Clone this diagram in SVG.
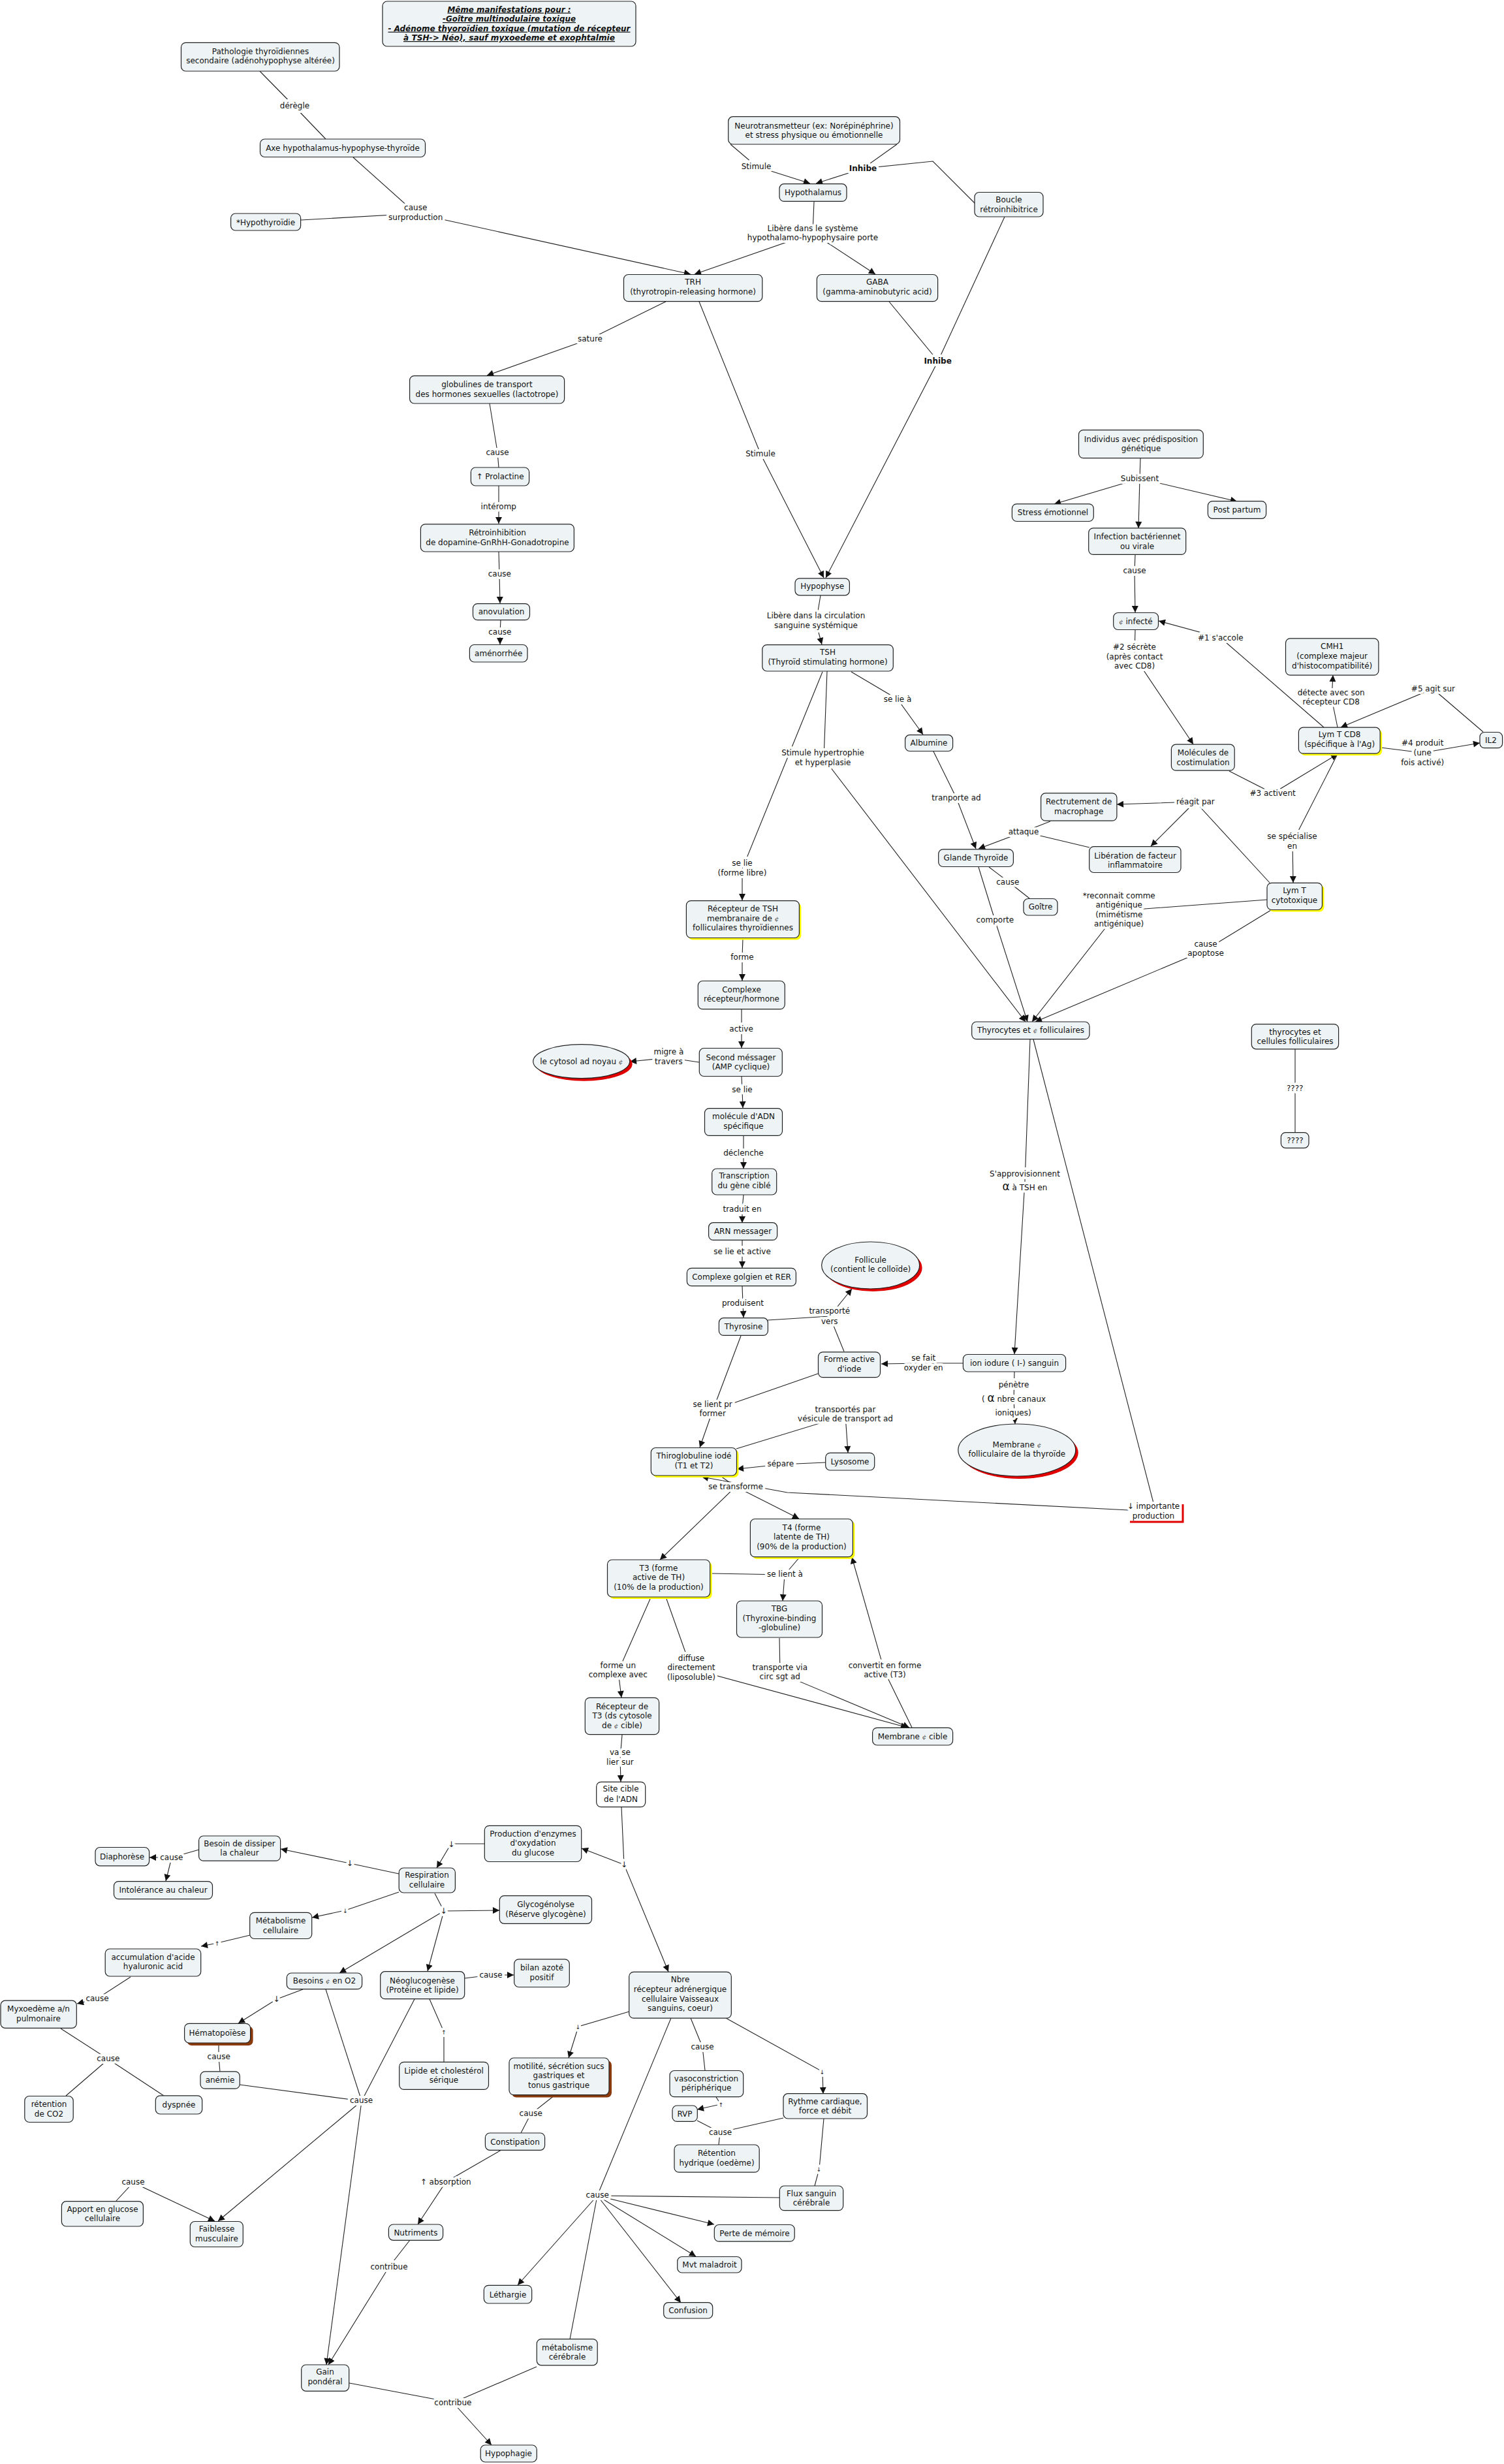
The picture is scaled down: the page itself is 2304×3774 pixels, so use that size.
<svg xmlns="http://www.w3.org/2000/svg" width="2304" height="3774" viewBox="0 0 2304 3774">
<defs>
<style>
.n{fill:#EEF4F6;stroke:#222;stroke-width:1.2}
.w{fill:#FFFFFF;stroke:#222;stroke-width:1.2}
.ys{fill:#FFFF00}
.rs{fill:#E00000}
.bs{fill:#8B3A0E}
.t{font-family:"DejaVu Sans",Verdana,sans-serif;font-size:12px;fill:#111;text-anchor:middle}
.l{font-family:"DejaVu Sans",Verdana,sans-serif;font-size:12px;fill:#111;text-anchor:middle;paint-order:stroke;stroke:#fff;stroke-width:8px;stroke-linejoin:round}
.sm{font-size:9px}
.b{font-weight:bold}
.ti{font-family:"DejaVu Sans",Verdana,sans-serif;font-size:12px;fill:#111;text-anchor:middle;font-weight:bold;font-style:italic;text-decoration:underline}
.cs{font-family:"DejaVu Serif",serif;font-style:italic;font-size:10px;fill:#444}
.al{font-size:17px}
.c{fill:none;stroke:#222;stroke-width:1.1}
.a{marker-end:url(#ar)}
</style>
<marker id="ar" viewBox="0 0 10 10" refX="10" refY="5" markerWidth="11" markerHeight="10" markerUnits="userSpaceOnUse" orient="auto"><path d="M0,0 L10,5 L0,10 z" fill="#111"/></marker>
</defs>
<rect width="2304" height="3774" fill="#FFFFFF"/>

<g id="connectors">
<path class="c" d="M398,109 L451,163 L499,213"/>
<path class="c a" d="M541,241 L637,327 L1058,420"/>
<path class="c" d="M637,327 L461,337"/>
<path class="c a" d="M1119,221 L1159,255 L1241,281"/>
<path class="c a" d="M1374,221 L1322,258 L1250,281"/>
<path class="c" d="M1494,312 L1429,247 L1322,258"/>
<path class="c a" d="M1247,309 L1245,357 L1064,420"/>
<path class="c a" d="M1245,357 L1341,420"/>
<path class="c a" d="M1020,462 L904,519 L746,575"/>
<path class="c a" d="M1071,462 L1165,695 L1262,885"/>
<path class="c a" d="M1362,462 L1437,553 L1265,885"/>
<path class="c" d="M1539,332 L1437,553"/>
<path class="c" d="M750,618 L762,692 L764,716"/>
<path class="c a" d="M764,744 L764,776 L764,802"/>
<path class="c a" d="M764,845 L765,879 L766,924"/>
<path class="c a" d="M767,950 L766,968 L766,987"/>
<path class="c a" d="M1257,912 L1250,954 L1259,987"/>
<path class="c a" d="M1304,1029 L1375,1071 L1414,1125"/>
<path class="c a" d="M1267,1028 L1262,1162 L1571,1565"/>
<path class="c a" d="M1260,1029 L1137,1331 L1137,1379"/>
<path class="c a" d="M1430,1151 L1465,1222 L1495,1300"/>
<path class="c a" d="M1609,1258 L1568,1274 L1499,1300"/>
<path class="c" d="M1669,1298 L1568,1274"/>
<path class="c" d="M1515,1328 L1544,1350 L1577,1376"/>
<path class="c a" d="M1499,1328 L1524,1409 L1574,1565"/>
<path class="c a" d="M1138,1437 L1137,1466 L1137,1502"/>
<path class="c a" d="M1136,1546 L1136,1576 L1136,1605"/>
<path class="c a" d="M1071,1627 L1024,1620 L965,1626"/>
<path class="c a" d="M1136,1649 L1137,1669 L1138,1697"/>
<path class="c a" d="M1139,1740 L1139,1766 L1139,1790"/>
<path class="c a" d="M1139,1830 L1137,1852 L1137,1873"/>
<path class="c a" d="M1137,1899 L1137,1917 L1137,1942"/>
<path class="c a" d="M1137,1970 L1138,1996 L1139,2018"/>
<path class="c a" d="M1176,2022 L1271,2016 L1305,1974"/>
<path class="c" d="M1293,2070 L1271,2016"/>
<path class="c a" d="M1475,2088 L1415,2088 L1350,2089"/>
<path class="c a" d="M1554,2101 L1553,2144 L1555,2181"/>
<path class="c a" d="M1578,1592 L1570,1810 L1554,2074"/>
<path class="c a" d="M1135,2046 L1092,2160 L1072,2217"/>
<path class="c" d="M1253,2104 L1092,2160"/>
<path class="c a" d="M1128,2219 L1295,2168 L1299,2225"/>
<path class="c a" d="M1265,2240 L1196,2243 L1129,2250"/>
<path class="c a" d="M1104,2261 L1127,2277 L1011,2389"/>
<path class="c a" d="M1127,2277 L1224,2326"/>
<path class="c" d="M1583,1592 L1767,2302"/>
<path class="c a" d="M1729,2313 L1206,2286 L1075,2262"/>
<path class="c a" d="M1091,2410 L1202,2412 L1199,2452"/>
<path class="c" d="M1225,2385 L1202,2412"/>
<path class="c a" d="M996,2449 L947,2560 L952,2600"/>
<path class="c a" d="M1021,2449 L1059,2556 L1390,2646"/>
<path class="c a" d="M1194,2509 L1195,2563 L1393,2646"/>
<path class="c a" d="M1397,2646 L1355,2560 L1305,2385"/>
<path class="c a" d="M953,2657 L950,2693 L951,2729"/>
<path class="c a" d="M952,2768 L956,2856 L1024,3020"/>
<path class="c a" d="M956,2856 L891,2831"/>
<path class="c a" d="M742,2824 L691,2824 L669,2861"/>
<path class="c a" d="M611,2870 L536,2854 L430,2832"/>
<path class="c a" d="M305,2833 L263,2845 L229,2845"/>
<path class="c a" d="M263,2845 L254,2881"/>
<path class="c a" d="M611,2898 L529,2926 L478,2937"/>
<path class="c a" d="M383,2964 L333,2976 L308,2981"/>
<path class="c a" d="M200,3028 L149,3061 L118,3069"/>
<path class="c" d="M93,3107 L166,3154 L101,3210"/>
<path class="c" d="M166,3154 L251,3210"/>
<path class="c a" d="M666,2900 L680,2927 L765,2926"/>
<path class="c a" d="M680,2927 L520,3022"/>
<path class="c a" d="M680,2927 L655,3019"/>
<path class="c a" d="M712,3030 L752,3025 L787,3025"/>
<path class="c" d="M680,3158 L680,3112 L658,3062"/>
<path class="c a" d="M464,3047 L424,3062 L365,3099"/>
<path class="c" d="M335,3129 L335,3150 L337,3173"/>
<path class="c" d="M367,3193 L554,3218"/>
<path class="c" d="M499,3047 L554,3218"/>
<path class="c" d="M635,3062 L554,3218"/>
<path class="c a" d="M554,3218 L334,3402"/>
<path class="c a" d="M554,3218 L500,3622"/>
<path class="c a" d="M178,3371 L204,3343 L329,3402"/>
<path class="c a" d="M628,3431 L596,3472 L503,3622"/>
<path class="c a" d="M768,3293 L683,3342 L640,3407"/>
<path class="c" d="M850,3209 L813,3238 L798,3267"/>
<path class="c a" d="M964,3081 L886,3104 L871,3152"/>
<path class="c" d="M1058,3091 L1076,3135 L1080,3171"/>
<path class="c a" d="M1097,3212 L1104,3223 L1068,3231"/>
<path class="c" d="M1068,3248 L1103,3266 L1101,3285"/>
<path class="c" d="M1200,3244 L1103,3266"/>
<path class="c a" d="M1112,3091 L1260,3173 L1261,3207"/>
<path class="c" d="M1262,3245 L1255,3322 L1248,3348"/>
<path class="c" d="M1194,3366 L915,3363"/>
<path class="c" d="M1028,3091 L915,3363"/>
<path class="c" d="M873,3583 L915,3363"/>
<path class="c a" d="M915,3363 L793,3500"/>
<path class="c a" d="M915,3363 L1094,3407"/>
<path class="c a" d="M915,3363 L1066,3456"/>
<path class="c a" d="M915,3363 L1043,3527"/>
<path class="c a" d="M535,3650 L694,3680 L753,3745"/>
<path class="c" d="M822,3625 L694,3680"/>
<path class="c" d="M1747,702 L1746,733"/>
<path class="c a" d="M1746,733 L1615,772"/>
<path class="c a" d="M1746,733 L1744,809"/>
<path class="c a" d="M1746,733 L1895,768"/>
<path class="c a" d="M1739,850 L1738,875 L1739,938"/>
<path class="c a" d="M2028,1114 L1870,977 L1775,951"/>
<path class="c a" d="M1739,965 L1738,1006 L1828,1140"/>
<path class="c a" d="M1883,1181 L1950,1215 L2049,1155"/>
<path class="c a" d="M2049,1114 L2040,1070 L2042,1034"/>
<path class="c a" d="M2272,1121 L2195,1055 L2054,1114"/>
<path class="c a" d="M2115,1145 L2179,1153 L2267,1138"/>
<path class="c a" d="M2049,1155 L1980,1290 L1981,1352"/>
<path class="c a" d="M1945,1352 L1831,1228 L1711,1232"/>
<path class="c a" d="M1831,1228 L1763,1296"/>
<path class="c a" d="M1941,1378 L1714,1395 L1581,1565"/>
<path class="c a" d="M1947,1394 L1847,1455 L1586,1565"/>
<path class="c" d="M1984,1607 L1984,1667 L1984,1734"/>
</g>

<g id="labels">
<text class="l" x="451.5" y="166.4">dérègle</text>
<text class="l" x="636.7" y="322">cause</text><text class="l" x="636.7" y="336.6">surproduction</text>
<text class="l" x="1158.6" y="259">Stimule</text>
<text class="l b" x="1322" y="261.5">Inhibe</text>
<text class="l" x="1245" y="353.6">Libère dans le système</text><text class="l" x="1245" y="368">hypothalamo-hypophysaire porte</text>
<text class="l" x="904" y="522.6">sature</text>
<text class="l" x="1165" y="699">Stimule</text>
<text class="l b" x="1436.6" y="557">Inhibe</text>
<text class="l" x="762" y="696.5">cause</text>
<text class="l" x="763.8" y="780">intéromp</text>
<text class="l" x="765.3" y="883">cause</text>
<text class="l" x="765.8" y="972">cause</text>
<text class="l" x="1250" y="947.3">Libère dans la circulation</text><text class="l" x="1250" y="961.9">sanguine systémique</text>
<text class="l" x="1375" y="1075">se lie à</text>
<text class="l" x="1260.6" y="1157">Stimule hypertrophie</text><text class="l" x="1260.6" y="1171.5">et hyperplasie</text>
<text class="l" x="1137" y="1326">se lie</text><text class="l" x="1137" y="1340.5">(forme libre)</text>
<text class="l" x="1465" y="1226">tranporte ad</text>
<text class="l" x="1568" y="1278">attaque</text>
<text class="l" x="1543.8" y="1354.5">cause</text>
<text class="l" x="1524.4" y="1413">comporte</text>
<text class="l" x="1137" y="1469.6">forme</text>
<text class="l" x="1135.6" y="1580">active</text>
<text class="l" x="1024.4" y="1615">migre à</text><text class="l" x="1024.4" y="1629.5">travers</text>
<text class="l" x="1137" y="1672.6">se lie</text>
<text class="l" x="1139" y="1769.5">déclenche</text>
<text class="l" x="1137" y="1855.5">traduit en</text>
<text class="l" x="1137" y="1921">se lie et active</text>
<text class="l" x="1138" y="1999.7">produisent</text>
<text class="l" x="1270.8" y="2012.4">transporté</text><text class="l" x="1270.8" y="2027.6">vers</text>
<text class="l" x="1414.7" y="2084">se fait</text><text class="l" x="1414.7" y="2098.5">oxyder en</text>
<text class="l" x="1553" y="2125">pénètre</text><text class="l" x="1553" y="2146.5">( <tspan class="al">α</tspan> nbre canaux</text><text class="l" x="1552" y="2167.5">ioniques)</text>
<text class="l" x="1570" y="1801.6">S'approvisionnent</text><text class="l" x="1570" y="1823"><tspan class="al">α</tspan> à TSH en</text>
<text class="l" x="1091.7" y="2154.8">se lient pr</text><text class="l" x="1091.7" y="2169.4">former</text>
<text class="l" x="1295" y="2162.7">transportés par</text><text class="l" x="1295" y="2177">vésicule de transport ad</text>
<text class="l" x="1195.8" y="2246.3">sépare</text>
<text class="l" x="1127" y="2281">se transforme</text>
<text class="l" x="1767" y="2311">↓ importante</text><text class="l" x="1767" y="2325.7">production</text>
<text class="l" x="1202.4" y="2415.4">se lient à</text>
<text class="l" x="946.8" y="2554.7">forme un</text><text class="l" x="946.8" y="2569.3">complexe avec</text>
<text class="l" x="1059" y="2543.8">diffuse</text><text class="l" x="1059" y="2558.3">directement</text><text class="l" x="1059" y="2573">(liposoluble)</text>
<text class="l" x="1194.8" y="2557.7">transporte via</text><text class="l" x="1194.8" y="2572.3">circ sgt ad</text>
<text class="l" x="1355.5" y="2554.7">convertit en forme</text><text class="l" x="1355.5" y="2569.3">active (T3)</text>
<text class="l" x="949.9" y="2688">va se</text><text class="l" x="949.9" y="2702.5">lier sur</text>
<text class="l" x="956" y="2860">↓</text>
<text class="l" x="691.3" y="2828.5">↓</text>
<text class="l" x="535.7" y="2858">↓</text>
<text class="l" x="262.8" y="2849.2">cause</text>
<text class="l sm" x="529" y="2929.5">↓</text>
<text class="l sm" x="332.7" y="2979.5">↑</text>
<text class="l" x="149" y="3064.5">cause</text>
<text class="l" x="165.8" y="3157.4">cause</text>
<text class="l" x="679.6" y="2931.4">↓</text>
<text class="l" x="752" y="3028.7">cause</text>
<text class="l sm" x="680" y="3115.5">↑</text>
<text class="l" x="423.5" y="3065.7">↓</text>
<text class="l" x="335.2" y="3153.6">cause</text>
<text class="l" x="553.6" y="3221.4">cause</text>
<text class="l" x="204" y="3346.2">cause</text>
<text class="l" x="596" y="3475.5">contribue</text>
<text class="l" x="682.7" y="3346.2">↑ absorption</text>
<text class="l" x="813.2" y="3241.4">cause</text>
<text class="l sm" x="885.6" y="3107.5">↓</text>
<text class="l" x="1076" y="3138.5">cause</text>
<text class="l sm" x="1104.5" y="3226.5">↑</text>
<text class="l" x="1103.5" y="3269.7">cause</text>
<text class="l sm" x="1259.6" y="3176.5">↓</text>
<text class="l sm" x="1254.5" y="3325.5">↓</text>
<text class="l" x="915.2" y="3366.3">cause</text>
<text class="l" x="693.9" y="3684">contribue</text>
<text class="l" x="1746" y="736.5">Subissent</text>
<text class="l" x="1738" y="878.3">cause</text>
<text class="l" x="1869.8" y="980.7">#1 s'accole</text>
<text class="l" x="1738" y="995.2">#2 sécrète</text><text class="l" x="1738" y="1009.7">(après contact</text><text class="l" x="1738" y="1024.3">avec CD8)</text>
<text class="l" x="1949.6" y="1219.4">#3 activent</text>
<text class="l" x="2039.2" y="1064.9">détecte avec son</text><text class="l" x="2039.2" y="1079.4">récepteur CD8</text>
<text class="l" x="2195.4" y="1059.4">#5 agit sur</text>
<text class="l" x="2179.2" y="1142.4">#4 produit</text><text class="l" x="2179.2" y="1157">(une</text><text class="l" x="2179.2" y="1171.5">fois activé)</text>
<text class="l" x="1979.5" y="1285.4">se spécialise</text><text class="l" x="1979.5" y="1300">en</text>
<text class="l" x="1831.4" y="1231.5">réagit par</text>
<text class="l" x="1714.2" y="1375.7">*reconnait comme</text><text class="l" x="1714.2" y="1390.2">antigénique</text><text class="l" x="1714.2" y="1404.8">(mimétisme</text><text class="l" x="1714.2" y="1419.3">antigénique)</text>
<text class="l" x="1847" y="1449.6">cause</text><text class="l" x="1847" y="1464">apoptose</text>
<text class="l" x="1983.7" y="1671.4">????</text>
</g>

<g id="n_title"><rect class="n" x="586" y="2" width="388" height="69" rx="7"/>
<text class="ti" x="780" y="18.5" textLength="189" lengthAdjust="spacingAndGlyphs">Même manifestations pour :</text>
<text class="ti" x="780" y="33" textLength="204" lengthAdjust="spacingAndGlyphs">-Goître multinodulaire toxique</text>
<text class="ti" x="780" y="47.6" textLength="371" lengthAdjust="spacingAndGlyphs">- Adénome thyoroïdien toxique (mutation de récepteur</text>
<text class="ti" x="780" y="62" textLength="324" lengthAdjust="spacingAndGlyphs">à TSH-&gt; Néo), sauf myxoedeme et exophtalmie</text></g>

<g id="n_path"><rect class="n" x="277.5" y="65.4" width="242.5" height="43.6" rx="7"/><text class="t" x="399" y="82.8">Pathologie thyroïdiennes</text><text class="t" x="399" y="97.3">secondaire (adénohypophyse altérée)</text></g>
<g id="n_axe"><rect class="n" x="398.5" y="213" width="253" height="27.5" rx="7"/><text class="t" x="525" y="230.5">Axe hypothalamus-hypophyse-thyroïde</text></g>
<g id="n_hypo"><rect class="n" x="353.6" y="327" width="107" height="26" rx="7"/><text class="t" x="407" y="344.5">*Hypothyroïdie</text></g>
<g id="n_neuro"><rect class="n" x="1115.7" y="178.7" width="262.8" height="42.3" rx="7"/><text class="t" x="1247" y="196.7">Neurotransmetteur (ex: Norépinéphrine)</text><text class="t" x="1247" y="211.2">et stress physique ou émotionnelle</text></g>
<g id="n_hypothal"><rect class="n" x="1194" y="281.7" width="103" height="26.7" rx="7"/><text class="t" x="1245.5" y="299">Hypothalamus</text></g>
<g id="n_boucle"><rect class="n" x="1493" y="294.5" width="105" height="37.5" rx="7"/><text class="t" x="1545.5" y="310">Boucle</text><text class="t" x="1545.5" y="324.5">rétroinhibitrice</text></g>
<g id="n_trh"><rect class="n" x="955.5" y="420.5" width="212.3" height="41.2" rx="7"/><text class="t" x="1061.6" y="436">TRH</text><text class="t" x="1061.6" y="450.5">(thyrotropin-releasing hormone)</text></g>
<g id="n_gaba"><rect class="n" x="1251.4" y="420.5" width="185.2" height="41.2" rx="7"/><text class="t" x="1344" y="436">GABA</text><text class="t" x="1344" y="450.5">(gamma-aminobutyric acid)</text></g>
<g id="n_glob"><rect class="n" x="627.6" y="575.6" width="237" height="42.4" rx="7"/><text class="t" x="746" y="593">globulines de transport</text><text class="t" x="746" y="607.5">des hormones sexuelles (lactotrope)</text></g>
<g id="n_prol"><rect class="n" x="721.4" y="716" width="89.2" height="28" rx="7"/><text class="t" x="766" y="734">↑ Prolactine</text></g>
<g id="n_retro"><rect class="n" x="644.4" y="802.8" width="235" height="42.2" rx="7"/><text class="t" x="762" y="820">Rétroinhibition</text><text class="t" x="762" y="834.6">de dopamine-GnRhH-Gonadotropine</text></g>
<g id="n_anov"><rect class="n" x="724.5" y="924.6" width="87" height="25" rx="7"/><text class="t" x="768" y="941">anovulation</text></g>
<g id="n_amen"><rect class="n" x="719.4" y="987.5" width="88.6" height="26.5" rx="7"/><text class="t" x="763.7" y="1005">aménorrhée</text></g>
<g id="n_hypoph"><rect class="n" x="1218" y="885.8" width="83.4" height="26" rx="7"/><text class="t" x="1259.7" y="902">Hypophyse</text></g>
<g id="n_tsh"><rect class="n" x="1167.8" y="987.6" width="200.5" height="40.4" rx="7"/><text class="t" x="1268" y="1003">TSH</text><text class="t" x="1268" y="1017.6">(Thyroïd stimulating hormone)</text></g>
<g id="n_alb"><rect class="n" x="1386.6" y="1125.7" width="73" height="24.8" rx="7"/><text class="t" x="1423" y="1142">Albumine</text></g>
<g id="n_glande"><rect class="n" x="1437.7" y="1300.8" width="114.7" height="26.7" rx="7"/><text class="t" x="1495" y="1318">Glande Thyroïde</text></g>
<g id="n_goitre"><rect class="n" x="1568" y="1376.5" width="52" height="25.5" rx="7"/><text class="t" x="1594" y="1393">Goître</text></g>
<g id="n_rect"><rect class="n" x="1594.6" y="1214.8" width="116.3" height="42.4" rx="7"/><text class="t" x="1652.7" y="1231.5">Rectrutement de</text><text class="t" x="1652.7" y="1246.6">macrophage</text></g>
<g id="n_lib"><rect class="n" x="1668.7" y="1296.6" width="140.3" height="39.9" rx="7"/><text class="t" x="1739" y="1314.5">Libération de facteur</text><text class="t" x="1739" y="1329">inflammatoire</text></g>
<g id="n_thyro"><rect class="n" x="1488.7" y="1565" width="180.3" height="26.6" rx="7"/><text class="t" x="1579" y="1582">Thyrocytes et <tspan class="cs">¢</tspan> folliculaires</text></g>
<g id="n_recep"><rect class="ys" x="1054.4" y="1382.6" width="173" height="56.9" rx="7"/><rect class="n" x="1051.4" y="1379.6" width="173" height="56.9" rx="7"/><text class="t" x="1138" y="1396">Récepteur de TSH</text><text class="t" x="1138" y="1410.8">membranaire de <tspan class="cs">¢</tspan></text><text class="t" x="1138" y="1425.4">folliculaires thyroïdiennes</text></g>
<g id="n_complexe"><rect class="n" x="1069.3" y="1502.5" width="133" height="43.1" rx="7"/><text class="t" x="1136" y="1520">Complexe</text><text class="t" x="1136" y="1534.4">récepteur/hormone</text></g>
<g id="n_second"><rect class="n" x="1071.3" y="1605.5" width="127" height="43" rx="7"/><text class="t" x="1135" y="1623.5">Second méssager</text><text class="t" x="1135" y="1638">(AMP cyclique)</text></g>
<g id="n_cytosol"><ellipse class="rs" cx="894.7" cy="1629.7" rx="74" ry="26"/><ellipse class="n" cx="890.7" cy="1625.7" rx="74" ry="26"/><text class="t" x="890.7" y="1629.5">le cytosol ad noyau <tspan class="cs">¢</tspan></text></g>
<g id="n_adn"><rect class="n" x="1079.5" y="1697.6" width="119" height="41.8" rx="7"/><text class="t" x="1139" y="1714">molécule d'ADN</text><text class="t" x="1139" y="1729">spécifique</text></g>
<g id="n_transc"><rect class="n" x="1090.7" y="1790" width="99" height="40" rx="7"/><text class="t" x="1140" y="1805">Transcription</text><text class="t" x="1140" y="1819.8">du gène ciblé</text></g>
<g id="n_arn"><rect class="n" x="1085.6" y="1872.7" width="105" height="26.7" rx="7"/><text class="t" x="1138" y="1890">ARN messager</text></g>
<g id="n_golgi"><rect class="n" x="1052.4" y="1942.4" width="167" height="27.3" rx="7"/><text class="t" x="1136" y="1960">Complexe golgien et RER</text></g>
<g id="n_thyrosine"><rect class="n" x="1101.4" y="2018.7" width="75" height="26.7" rx="7"/><text class="t" x="1139" y="2036">Thyrosine</text></g>
<g id="n_follicule"><ellipse class="rs" cx="1337.6" cy="1942" rx="75" ry="36"/><ellipse class="n" cx="1333.6" cy="1938" rx="75" ry="36"/><text class="t" x="1333.6" y="1933.7">Follicule</text><text class="t" x="1333.6" y="1948.2">(contient le colloïde)</text></g>
<g id="n_forme"><rect class="n" x="1253.5" y="2070.8" width="95" height="38.8" rx="7"/><text class="t" x="1301" y="2086.4">Forme active</text><text class="t" x="1301" y="2101">d'iode</text></g>
<g id="n_ion"><rect class="n" x="1475.4" y="2074.5" width="157.2" height="26.5" rx="7"/><text class="t" x="1554" y="2092">ion iodure ( I-) sanguin</text></g>
<g id="n_membrane"><ellipse class="rs" cx="1561.8" cy="2225" rx="90" ry="40"/><ellipse class="n" cx="1557.8" cy="2221" rx="90" ry="40"/><text class="t" x="1557.8" y="2216.6">Membrane <tspan class="cs">¢</tspan></text><text class="t" x="1557.8" y="2231">folliculaire de la thyroïde</text></g>
<g id="n_thiro"><rect class="ys" x="1000.3" y="2220.5" width="131.2" height="42.5" rx="7"/><rect class="n" x="997.3" y="2217.5" width="131.2" height="42.5" rx="7"/><text class="t" x="1063" y="2234">Thiroglobuline iodé</text><text class="t" x="1063" y="2248.7">(T1 et T2)</text></g>
<g id="n_lyso"><rect class="n" x="1264.7" y="2225.3" width="75" height="26.7" rx="7"/><text class="t" x="1302" y="2243">Lysosome</text></g>
<g id="n_imp"><path d="M1731,2331 L1812,2331 L1812,2304" fill="none" stroke="#E00000" stroke-width="3"/></g>
<g id="n_t4"><rect class="ys" x="1152.4" y="2329.5" width="157" height="58.2" rx="7"/><rect class="n" x="1149.4" y="2326.5" width="157" height="58.2" rx="7"/><text class="t" x="1228" y="2344">T4 (forme</text><text class="t" x="1228" y="2358.4">latente de TH)</text><text class="t" x="1228" y="2373">(90% de la production)</text></g>
<g id="n_t3"><rect class="ys" x="933.5" y="2392" width="157.2" height="57" rx="7"/><rect class="n" x="930.5" y="2389" width="157.2" height="57" rx="7"/><text class="t" x="1009" y="2405.6">T3 (forme</text><text class="t" x="1009" y="2420">active de TH)</text><text class="t" x="1009" y="2434.7">(10% de la production)</text></g>
<g id="n_tbg"><rect class="n" x="1128.5" y="2452" width="131" height="56" rx="7"/><text class="t" x="1194" y="2468">TBG</text><text class="t" x="1194" y="2482.6">(Thyroxine-binding</text><text class="t" x="1194" y="2497">-globuline)</text></g>
<g id="n_memcible"><rect class="n" x="1336.6" y="2646.4" width="123" height="26.6" rx="7"/><text class="t" x="1398" y="2664">Membrane <tspan class="cs">¢</tspan> cible</text></g>
<g id="n_rect3"><rect class="n" x="896.3" y="2600.4" width="113.3" height="56.3" rx="7"/><text class="t" x="953" y="2617.7">Récepteur de</text><text class="t" x="953" y="2632.3">T3 (ds cytosole</text><text class="t" x="953" y="2646.8">de <tspan class="cs">¢</tspan> cible)</text></g>
<g id="n_site"><rect class="w" x="913.7" y="2729.4" width="75" height="38.2" rx="7"/><text class="t" x="951" y="2744.3">Site cible</text><text class="t" x="951" y="2759.5">de l'ADN</text></g>
<g id="n_prod"><rect class="n" x="742.3" y="2796.3" width="148.4" height="55.2" rx="7"/><text class="t" x="816.5" y="2812.8">Production d'enzymes</text><text class="t" x="816.5" y="2827.3">d'oxydation</text><text class="t" x="816.5" y="2841.7">du glucose</text></g>
<g id="n_resp"><rect class="n" x="611.2" y="2861" width="86.2" height="38" rx="7"/><text class="t" x="654" y="2876.2">Respiration</text><text class="t" x="654" y="2890.6">cellulaire</text></g>
<g id="n_besoin"><rect class="n" x="304.6" y="2812" width="125" height="38.2" rx="7"/><text class="t" x="367" y="2828">Besoin de dissiper</text><text class="t" x="367" y="2841.7">la chaleur</text></g>
<g id="n_diaph"><rect class="n" x="146" y="2829.5" width="82.6" height="28.3" rx="7"/><text class="t" x="187" y="2847.5">Diaphorèse</text></g>
<g id="n_intol"><rect class="n" x="174.5" y="2881.6" width="151" height="27" rx="7"/><text class="t" x="250" y="2899">Intolérance au chaleur</text></g>
<g id="n_metab"><rect class="n" x="382.7" y="2929.3" width="95" height="40.2" rx="7"/><text class="t" x="430" y="2946">Métabolisme</text><text class="t" x="430" y="2961">cellulaire</text></g>
<g id="n_accum"><rect class="n" x="161.2" y="2985" width="146.5" height="42" rx="7"/><text class="t" x="234.5" y="3001.7">accumulation d'acide</text><text class="t" x="234.5" y="3016">hyaluronic acid</text></g>
<g id="n_myxo"><rect class="n" x="1" y="3064.2" width="116.3" height="42.1" rx="7"/><text class="t" x="59" y="3081.4">Myxoedème a/n</text><text class="t" x="59" y="3095.8">pulmonaire</text></g>
<g id="n_reten"><rect class="n" x="37.8" y="3210.5" width="74.4" height="40" rx="7"/><text class="t" x="75" y="3227">rétention</text><text class="t" x="75" y="3242">de CO2</text></g>
<g id="n_dysp"><rect class="n" x="238.3" y="3209.8" width="71.4" height="28.2" rx="7"/><text class="t" x="274" y="3227.7">dyspnée</text></g>
<g id="n_beso2"><rect class="n" x="439.3" y="3022" width="115.3" height="24.7" rx="7"/><text class="t" x="497" y="3038">Besoins <tspan class="cs">¢</tspan> en O2</text></g>
<g id="n_glyco"><rect class="n" x="765.3" y="2903.6" width="141.2" height="42.7" rx="7"/><text class="t" x="836" y="2921.4">Glycogénolyse</text><text class="t" x="836" y="2935.8">(Réserve glycogène)</text></g>
<g id="n_neo"><rect class="n" x="582.7" y="3019.7" width="129" height="42" rx="7"/><text class="t" x="647" y="3037.5">Néoglucogenèse</text><text class="t" x="647" y="3052">(Protéine et lipide)</text></g>
<g id="n_bilan"><rect class="n" x="787.7" y="3000.9" width="84.6" height="42.6" rx="7"/><text class="t" x="830" y="3018">bilan azoté</text><text class="t" x="830" y="3033">positif</text></g>
<g id="n_lipide"><rect class="n" x="611.7" y="3158.4" width="136.8" height="42" rx="7"/><text class="t" x="680" y="3175.6">Lipide et cholestérol</text><text class="t" x="680" y="3190">sérique</text></g>
<g id="n_hemato"><rect class="bs" x="286.6" y="3103.4" width="101" height="29.6" rx="7"/><rect class="n" x="282.6" y="3099.4" width="101" height="29.6" rx="7"/><text class="t" x="333" y="3118">Hématopoïèse</text></g>
<g id="n_anemie"><rect class="n" x="307" y="3172.8" width="60.3" height="26.4" rx="7"/><text class="t" x="337" y="3190">anémie</text></g>
<g id="n_faib"><rect class="n" x="291.3" y="3402.5" width="81" height="39" rx="7"/><text class="t" x="332" y="3418.4">Faiblesse</text><text class="t" x="332" y="3432.8">musculaire</text></g>
<g id="n_apport"><rect class="n" x="94.4" y="3371.7" width="125" height="38.3" rx="7"/><text class="t" x="157" y="3387.7">Apport en glucose</text><text class="t" x="157" y="3402">cellulaire</text></g>
<g id="n_gain"><rect class="n" x="461.7" y="3622" width="73" height="40.3" rx="7"/><text class="t" x="498" y="3637.4">Gain</text><text class="t" x="498" y="3651.9">pondéral</text></g>
<g id="n_nutri"><rect class="n" x="595.4" y="3407" width="83.2" height="24.3" rx="7"/><text class="t" x="637" y="3423.5">Nutriments</text></g>
<g id="n_constip"><rect class="n" x="743.4" y="3267" width="91.2" height="26.3" rx="7"/><text class="t" x="789" y="3284.5">Constipation</text></g>
<g id="n_motil"><rect class="bs" x="784" y="3156" width="153" height="56.6" rx="7"/><rect class="n" x="780" y="3152" width="153" height="56.6" rx="7"/><text class="t" x="856" y="3168.6">motilité, sécrétion sucs</text><text class="t" x="856" y="3183">gastriques et</text><text class="t" x="856" y="3197.5">tonus gastrique</text></g>
<g id="n_nbre"><rect class="n" x="963.7" y="3020.3" width="156.6" height="70.9" rx="7"/><text class="t" x="1042" y="3036.2">Nbre</text><text class="t" x="1042" y="3051.3">récepteur adrénergique</text><text class="t" x="1042" y="3065.7">cellulaire Vaisseaux</text><text class="t" x="1042" y="3080.2">sanguins, coeur)</text></g>
<g id="n_vaso"><rect class="n" x="1026" y="3171.5" width="112.7" height="40.2" rx="7"/><text class="t" x="1082" y="3187.5">vasoconstriction</text><text class="t" x="1082" y="3202">périphérique</text></g>
<g id="n_rvp"><rect class="n" x="1030" y="3225" width="38.3" height="24.4" rx="7"/><text class="t" x="1049" y="3241.5">RVP</text></g>
<g id="n_reth"><rect class="n" x="1033" y="3285" width="130.2" height="42.2" rx="7"/><text class="t" x="1098" y="3302.3">Rétention</text><text class="t" x="1098" y="3316.7">hydrique (oedème)</text></g>
<g id="n_rythme"><rect class="n" x="1200" y="3206.7" width="128.5" height="38.3" rx="7"/><text class="t" x="1264" y="3222.6">Rythme cardiaque,</text><text class="t" x="1264" y="3237">force et débit</text></g>
<g id="n_flux"><rect class="n" x="1194.3" y="3348" width="97.4" height="37.6" rx="7"/><text class="t" x="1243" y="3363.8">Flux sanguin</text><text class="t" x="1243" y="3378.2">cérébrale</text></g>
<g id="n_perte"><rect class="n" x="1094.3" y="3407.5" width="122.9" height="25.7" rx="7"/><text class="t" x="1156" y="3424.5">Perte de mémoire</text></g>
<g id="n_mvt"><rect class="n" x="1037.7" y="3456.5" width="98.3" height="24.5" rx="7"/><text class="t" x="1087" y="3473">Mvt maladroit</text></g>
<g id="n_conf"><rect class="n" x="1016.7" y="3526.7" width="75" height="24.3" rx="7"/><text class="t" x="1054" y="3543">Confusion</text></g>
<g id="n_leth"><rect class="n" x="741.3" y="3500.4" width="73.4" height="27.6" rx="7"/><text class="t" x="778" y="3518.5">Léthargie</text></g>
<g id="n_metcer"><rect class="n" x="822.3" y="3582.6" width="92.9" height="40.2" rx="7"/><text class="t" x="869" y="3599.8">métabolisme</text><text class="t" x="869" y="3614.2">cérébrale</text></g>
<g id="n_hypophagie"><rect class="n" x="736.2" y="3745" width="86.1" height="26" rx="7"/><text class="t" x="779" y="3762">Hypophagie</text></g>
<g id="n_indiv"><rect class="n" x="1652.5" y="658.6" width="190.8" height="43" rx="7"/><text class="t" x="1748" y="676.5">Individus avec prédisposition</text><text class="t" x="1748" y="691">génétique</text></g>
<g id="n_stress"><rect class="n" x="1550.4" y="771.9" width="124.9" height="26.6" rx="7"/><text class="t" x="1613" y="789">Stress émotionnel</text></g>
<g id="n_post"><rect class="n" x="1850.4" y="767.6" width="89.2" height="26.7" rx="7"/><text class="t" x="1895" y="785">Post partum</text></g>
<g id="n_infect"><rect class="n" x="1667.7" y="808.8" width="149" height="40.6" rx="7"/><text class="t" x="1742" y="826.2">Infection bactériennet</text><text class="t" x="1742" y="840.7">ou virale</text></g>
<g id="n_cinf"><rect class="n" x="1705.7" y="938.5" width="68.8" height="26" rx="7"/><text class="t" x="1740" y="955.5"><tspan class="cs">¢</tspan> infecté</text></g>
<g id="n_molec"><rect class="n" x="1794.4" y="1140.2" width="96.8" height="40" rx="7"/><text class="t" x="1843" y="1157">Molécules de</text><text class="t" x="1843" y="1171.5">costimulation</text></g>
<g id="n_cd8"><rect class="ys" x="1992.4" y="1117.2" width="124.8" height="40" rx="7"/><rect class="n" x="1989.4" y="1114.2" width="124.8" height="40" rx="7"/><text class="t" x="2052" y="1129">Lym T CD8</text><text class="t" x="2052" y="1144.2">(spécifique à l'Ag)</text></g>
<g id="n_cmh"><rect class="n" x="1969.5" y="977.9" width="142.4" height="56.3" rx="7"/><text class="t" x="2040.7" y="994">CMH1</text><text class="t" x="2040.7" y="1009">(complexe majeur</text><text class="t" x="2040.7" y="1023.7">d'histocompatibilité)</text></g>
<g id="n_il2"><rect class="n" x="2267" y="1121.5" width="34.6" height="24.2" rx="7"/><text class="t" x="2284" y="1138">IL2</text></g>
<g id="n_cyto"><rect class="ys" x="1944" y="1355.3" width="84.5" height="41.2" rx="7"/><rect class="n" x="1941" y="1352.3" width="84.5" height="41.2" rx="7"/><text class="t" x="1983" y="1368.4">Lym T</text><text class="t" x="1983" y="1383">cytotoxique</text></g>
<g id="n_thyro2"><rect class="n" x="1917.3" y="1568.6" width="133.3" height="38.2" rx="7"/><text class="t" x="1984" y="1585.3">thyrocytes et</text><text class="t" x="1984" y="1599.3">cellules folliculaires</text></g>
<g id="n_q"><rect class="n" x="1962.4" y="1734.6" width="42.6" height="23.7" rx="7"/><text class="t" x="1984" y="1750.5">????</text></g>
</svg>
